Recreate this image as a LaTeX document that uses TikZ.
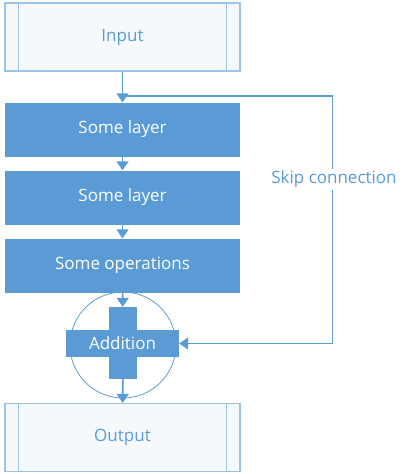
\documentclass[tikz,border=0pt]{standalone}
\usepackage{fontspec}
\setmainfont{Open Sans}
\usetikzlibrary{arrows.meta,calc}
\definecolor{mblue}{HTML}{5B9BD5}
\definecolor{lblue}{HTML}{9DC3E6}
\definecolor{tblue}{HTML}{5B9BD5}
\definecolor{iofill}{HTML}{F6F9FC}
\begin{document}
\begin{tikzpicture}[x=1pt,y=-1pt,
  io/.style={draw=lblue,line width=1.2pt,fill=iofill,minimum width=235pt,minimum height=68pt,
    text=tblue,font=\fontsize{17}{19}\selectfont,inner sep=0pt},
  layer/.style={fill=mblue,minimum width=235pt,minimum height=54pt,text=white,
    font=\fontsize{17}{19}\selectfont,inner sep=0pt},
  conn/.style={draw=mblue,line width=1.6pt,-{Triangle[width=12pt,length=9pt]}},
  plain/.style={draw=mblue,line width=1.6pt}
]
\useasboundingbox (0,0) rectangle (408,474);
\node[io] (in) at (122.5,37) {Input};
\draw[lblue,line width=1.2pt] ($(in.north west)+(14,0)$) -- ($(in.south west)+(14,0)$);
\draw[lblue,line width=1.2pt] ($(in.north east)+(-14,0)$) -- ($(in.south east)+(-14,0)$);
\node[layer] (l1) at (122.5,129.5) {Some layer};
\node[layer] (l2) at (122.5,197.5) {Some layer};
\node[layer] (l3) at (122.5,265.5) {Some operations};
\node[draw=mblue,line width=0.8pt,circle,minimum size=106pt,inner sep=0pt] (circ) at (123,345) {};
\node[fill=mblue,minimum width=28pt,minimum height=72pt,inner sep=0pt] (vbar) at (123,343) {};
\node[fill=mblue,minimum width=113pt,minimum height=27pt,inner sep=0pt,text=white,
  font=\fontsize{17}{19}\selectfont] (add) at (122.5,343.5) {Addition};
\node[io] (out) at (122.5,437.5) {Output};
\draw[lblue,line width=1.2pt] ($(out.north west)+(14,0)$) -- ($(out.south west)+(14,0)$);
\draw[lblue,line width=1.2pt] ($(out.north east)+(-14,0)$) -- ($(out.south east)+(-14,0)$);
\draw[conn] (in) -- (l1);
\draw[conn] (l1) -- (l2);
\draw[conn] (l2) -- (l3);
\draw[conn] (l3) -- (vbar);
\draw[conn] (vbar) -- (out);
\coordinate (j) at (123,96);
\coordinate (st) at (332.5,96);
\coordinate (sb) at (332.5,343.5);
\draw[plain] (j) -- (st) -- (sb);
\draw[conn] (sb) -- (add.east);
\node[fill=white,text=tblue,font=\fontsize{17}{19}\selectfont,inner sep=2pt] (skip) at (334,179) {Skip connection};
\end{tikzpicture}
\end{document}
